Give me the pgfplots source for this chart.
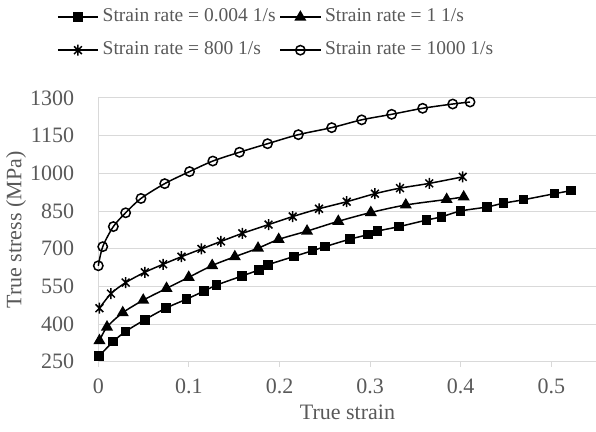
\documentclass[border=0pt]{standalone}
\usepackage{fontspec}
\setmainfont{Liberation Serif}
\usepackage{pgfplots}
\pgfplotsset{compat=1.18}

\definecolor{txtgray}{HTML}{595959}
\definecolor{gridgray}{HTML}{D9D9D9}

% six-armed star: an X with a vertical bar
\pgfdeclareplotmark{xstar}{%
  \pgfpathmoveto{\pgfqpoint{0pt}{\pgfplotmarksize}}%
  \pgfpathlineto{\pgfqpoint{0pt}{-\pgfplotmarksize}}%
  \pgfpathmoveto{\pgfqpoint{.7071\pgfplotmarksize}{.7071\pgfplotmarksize}}%
  \pgfpathlineto{\pgfqpoint{-.7071\pgfplotmarksize}{-.7071\pgfplotmarksize}}%
  \pgfpathmoveto{\pgfqpoint{-.7071\pgfplotmarksize}{.7071\pgfplotmarksize}}%
  \pgfpathlineto{\pgfqpoint{.7071\pgfplotmarksize}{-.7071\pgfplotmarksize}}%
  \pgfusepathqstroke}

\newcommand{\chartfont}{\fontsize{22bp}{26bp}\selectfont}
\newcommand{\legendfont}{\fontsize{19.5bp}{23bp}\selectfont}

\begin{document}
\begin{tikzpicture}
\begin{axis}[
  scale only axis, width=498.3bp, height=263.7bp,
  xmin=0, xmax=0.55, ymin=250, ymax=1300,
  clip=false,
  axis x line*=bottom, axis y line*=left,
  axis line style={draw=gridgray, line width=1bp, -},
  xtick={0,0.1,0.2,0.3,0.4,0.5},
  xticklabels={0,0.1,0.2,0.3,0.4,0.5},
  ytick={250,400,550,700,850,1000,1150,1300},
  yticklabels={250,400,550,700,850,1000,1150,1300},
  ymajorgrids, grid style={draw=gridgray, line width=1bp},
  major tick length=5bp, tick align=outside,
  x tick style={draw=gridgray, line width=1bp},
  y tick style={draw=none},
  ticklabel style={font=\chartfont, text=txtgray, inner sep=0pt},
  xticklabel style={anchor=center, yshift=-20bp},
  yticklabel style={anchor=east, xshift=-19bp},
  xlabel={True strain}, ylabel={True stress (MPa)},
  label style={font=\chartfont, text=txtgray, inner sep=0pt},
  xlabel style={at={(axis description cs:0.5,0)}, anchor=center, yshift=-51bp},
  ylabel style={at={(axis description cs:-0.165,0.5)}, anchor=center},
  legend columns=2,
  legend cell align=left,
  legend style={at={(axis description cs:-0.0829,1.347)}, anchor=north west,
    draw=none, fill=none, inner sep=0pt, column sep=3bp, row sep=12bp,
    font=\legendfont, text=txtgray,
    nodes={inner sep=1bp, text height=14bp, text depth=5bp}},
  legend image code/.code={%
    \draw[mark repeat=2, mark phase=2, #1]
      plot coordinates {(0bp,0bp) (20bp,0bp) (40bp,0bp)};},
  every axis plot/.append style={black, line width=1.5bp, smooth, tension=0.5},
]
\coordinate (sw) at (rel axis cs:0,0);

% strain rate 0.004 1/s
\addplot[mark=square*, mark size=4bp, mark options={fill=black}] coordinates {
(0.001,273) (0.0164,330) (0.030,370) (0.0513,417) (0.0745,463)
(0.0973,499) (0.1167,531) (0.1305,555) (0.1584,591) (0.1774,616)
(0.1875,636) (0.216,669) (0.2364,692) (0.2502,708) (0.2778,738)
(0.2977,756) (0.3082,770) (0.3321,788) (0.3625,814) (0.3788,827)
(0.3998,850) (0.429,866) (0.447,881) (0.4695,895) (0.5037,919)
(0.5215,931)};
\addlegendentry{Strain rate = 0.004 1/s}

% strain rate 1 1/s
\addplot[mark=triangle*, mark size=5.5bp, mark options={fill=black}] coordinates {
(0.0013,334) (0.0096,388) (0.027,445) (0.0496,495) (0.0753,542)
(0.0998,586) (0.1257,633) (0.1507,668) (0.1763,702) (0.1991,737)
(0.2304,770) (0.2649,809) (0.3008,844) (0.3394,874) (0.3845,896)
(0.4033,906)};
\addlegendentry{Strain rate = 1 1/s}

% strain rate 800 1/s
\addplot[mark=xstar, mark size=5.5bp] coordinates {
(0.0013,463) (0.014,521) (0.0302,565) (0.0513,606) (0.0716,638)
(0.0918,668) (0.1139,699) (0.1354,729) (0.159,761) (0.1879,796)
(0.2146,828) (0.2436,859) (0.2742,887) (0.3054,919) (0.333,941)
(0.3653,960) (0.4022,986)};
\addlegendentry{Strain rate = 800 1/s}

% strain rate 1000 1/s
\addplot[mark=o, mark size=4.7bp, mark options={fill=white}] coordinates {
(0,632) (0.0049,708) (0.0166,788) (0.0302,843) (0.0471,900)
(0.0733,959) (0.1007,1007) (0.1264,1049) (0.1558,1084) (0.1868,1118)
(0.2208,1154) (0.2576,1182) (0.2907,1213) (0.3238,1235) (0.358,1259)
(0.3912,1276) (0.4103,1284)};
\addlegendentry{Strain rate = 1000 1/s}
\end{axis}
\pgfresetboundingbox
\path ([xshift=-98.3bp,yshift=-70.3bp]sw) rectangle ++(596bp,432bp);
\end{tikzpicture}
\end{document}
